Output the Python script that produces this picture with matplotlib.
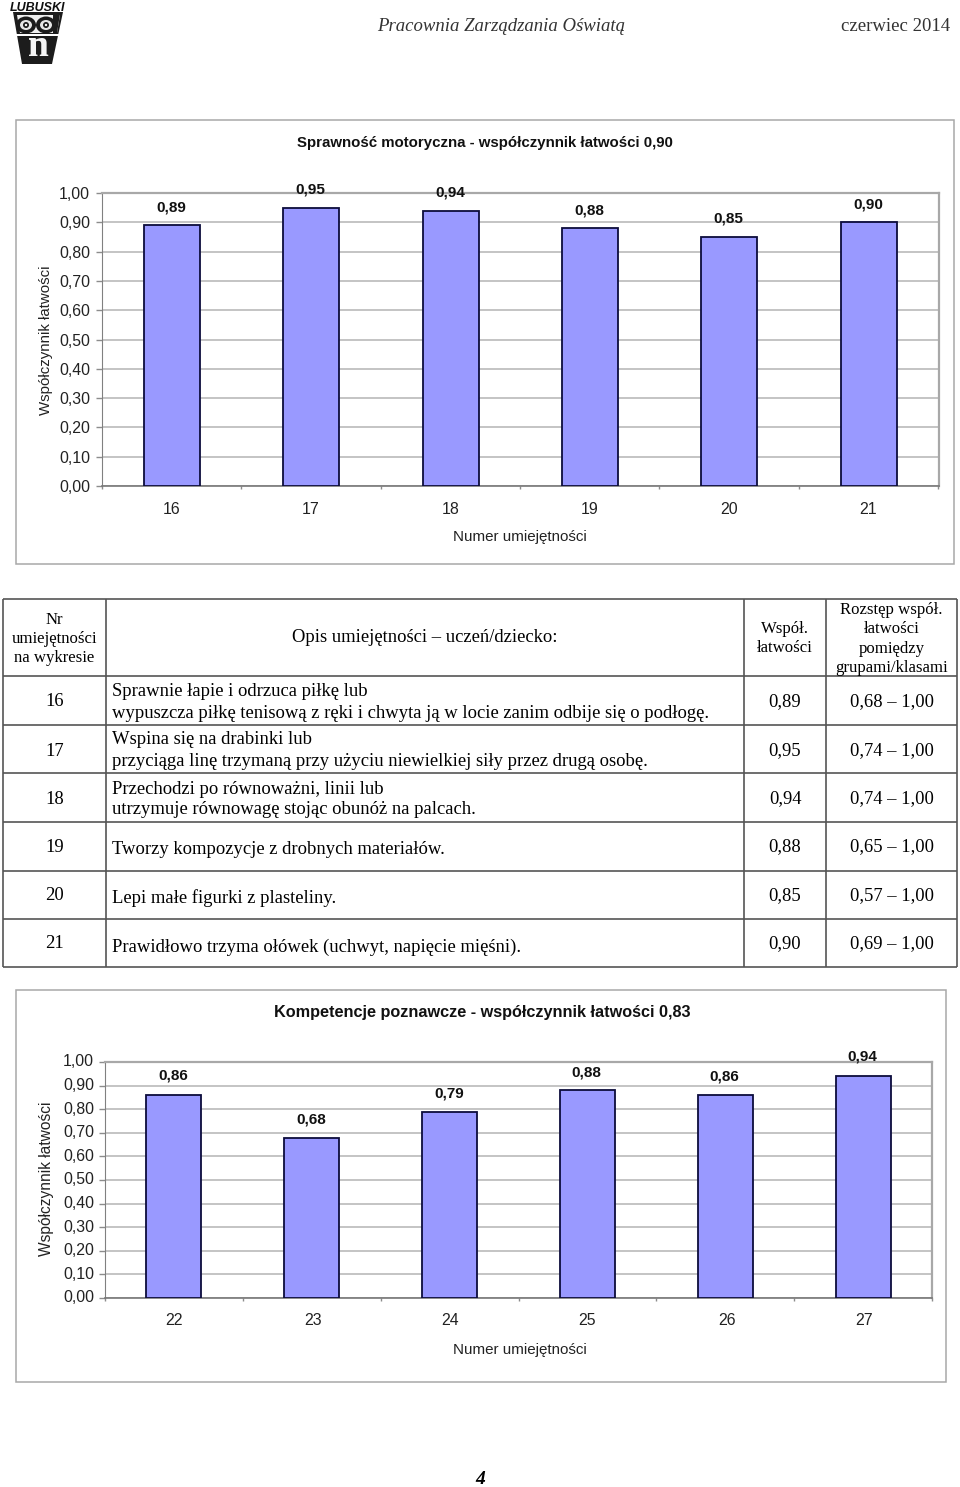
import matplotlib
matplotlib.use("Agg")
import matplotlib.pyplot as plt
from matplotlib.patches import Rectangle, Polygon, Ellipse

W, H = 960, 1487
SANS = "Liberation Sans"
SERIF = "Liberation Serif"
GREY = "#8c8c8c"
BAR = "#9999ff"
BAR_EDGE = "#0c0c3c"

skills_a = ["16", "17", "18", "19", "20", "21"]
values_a = [0.89, 0.95, 0.94, 0.88, 0.85, 0.90]
skills_b = ["22", "23", "24", "25", "26", "27"]
values_b = [0.86, 0.68, 0.79, 0.88, 0.86, 0.94]
y_ticks = [0.0, 0.1, 0.2, 0.3, 0.4, 0.5, 0.6, 0.7, 0.8, 0.9, 1.0]

title_a = "Sprawność motoryczna - współczynnik łatwości 0,90"
title_b = "Kompetencje poznawcze - współczynnik łatwości 0,83"
y_label = "Współczynnik łatwości"
x_label = "Numer umiejętności"

head_nr = ["Nr", "umiejętności", "na wykresie"]
head_opis = "Opis umiejętności – uczeń/dziecko:"
head_wsp = ["Współ.", "łatwości"]
head_roz = ["Rozstęp współ.", "łatwości", "pomiędzy", "grupami/klasami"]
rows_nr = ["16", "17", "18", "19", "20", "21"]
rows_desc = [
    ["Sprawnie łapie i odrzuca piłkę lub",
     "wypuszcza piłkę tenisową z ręki i chwyta ją w locie zanim odbije się o podłogę."],
    ["Wspina się na drabinki lub",
     "przyciąga linę trzymaną przy użyciu niewielkiej siły przez drugą osobę."],
    ["Przechodzi po równoważni, linii lub",
     "utrzymuje równowagę stojąc obunóż na palcach."],
    ["Tworzy kompozycje z drobnych materiałów."],
    ["Lepi małe figurki z plasteliny."],
    ["Prawidłowo trzyma ołówek (uchwyt, napięcie mięśni)."],
]
rows_wsp = ["0,89", "0,95", "0,94", "0,88", "0,85", "0,90"]
rows_roz = ["0,68 – 1,00", "0,74 – 1,00", "0,74 – 1,00", "0,65 – 1,00", "0,57 – 1,00", "0,69 – 1,00"]

fig = plt.figure(figsize=(W / 100, H / 100), dpi=100, facecolor="white")
page = fig.add_axes([0, 0, 1, 1], zorder=0)
page.set_xlim(0, W)
page.set_ylim(H, 0)
page.axis("off")


def txt(x, y, s, font=SERIF, size=13.4, ha="left", **kw):
    page.text(x, y + 1, s, family=font, fontsize=size, ha=ha, va="center", color=kw.pop("color", "black"), **kw)


def hl(y, x0, x1, color="#555555", lw=1.2):
    page.plot([x0, x1], [y, y], color=color, lw=lw, solid_capstyle="butt")


def vl(x, y0, y1, color="#555555", lw=1.2):
    page.plot([x, x], [y0, y1], color=color, lw=lw, solid_capstyle="butt")


# Header
txt(377, 25.5, "Pracownia Zarządzania Oświatą", size=13.5, style="italic", color="#333333")
txt(950, 25.5, "czerwiec 2014", size=13.5, ha="right", color="#333333")
txt(480, 1479, "4", size=14, ha="center", weight="bold", style="italic")

# Logo
page.add_patch(Polygon([(13, 12), (63, 12), (52, 64), (22, 64)], closed=True, fc="#1c1c1c", ec="none"))
page.add_patch(Polygon([(17, 15), (60, 15), (57, 33), (20, 33)], closed=True, fc="#f0f0f0", ec="none"))
page.add_patch(Rectangle((13, 33.5), 50, 2.5, fc="white", ec="none"))
txt(38, 7, "LUBUSKI", font=SANS, size=9, ha="center", weight="bold", style="italic", color="#111111")
for cx in (26, 46):
    page.add_patch(Ellipse((cx, 25), 20, 17, fc="#1c1c1c", ec="none"))
    page.add_patch(Ellipse((cx, 25), 12, 10, fc="#e6e6e6", ec="none"))
    page.add_patch(Ellipse((cx, 25), 6, 6, fc="#1c1c1c", ec="none"))
    page.add_patch(Ellipse((cx, 25), 2.4, 2.4, fc="white", ec="none"))
page.add_patch(Polygon([(53, 14), (60, 14), (57, 33), (53, 33)], closed=True, fc="#1c1c1c", ec="none"))
txt(38, 45, "n", size=27, ha="center", weight="bold", color="#f4f4f4")


def chart(box, plot, centers, width, values, skills, tick_centers, xtick_y, xlab_y, ylab_x, ylab_y, tick_x, tick_dy, lab_off, ylab_size):
    x0, y0, x1, y1 = box
    page.add_patch(Rectangle((x0, y0), x1 - x0, y1 - y0, fc="white", ec="#a8a8a8", lw=1.1))
    px0, py0, px1, py1 = plot
    ax = fig.add_axes([px0 / W, 1 - py1 / H, (px1 - px0) / W, (py1 - py0) / H], zorder=2)
    ax.set_facecolor("white")
    ax.set_xlim(px0, px1)
    ax.set_ylim(0, 1)
    ax.bar(centers, values, width=width, color=BAR, edgecolor=BAR_EDGE, linewidth=1.3, zorder=3)
    ax.set_yticks(y_ticks)
    ax.set_yticklabels([])
    ax.yaxis.grid(True, color="#b4b4b4", lw=1.1, zorder=0)
    ax.set_axisbelow(True)
    step = centers[1] - centers[0]
    ax.set_xticks([c - step / 2 for c in centers] + [centers[-1] + step / 2])
    ax.set_xticklabels([])
    ax.tick_params(axis="y", length=4, width=1, color=GREY)
    ax.tick_params(axis="x", length=2.2, width=1, color=GREY)
    for s in ("top", "right"):
        ax.spines[s].set_color("#a8a8a8")
        ax.spines[s].set_linewidth(1.6)
    ax.spines["bottom"].set_color("#777777")
    ax.spines["bottom"].set_linewidth(1.2)
    ax.spines["left"].set_color("#808080")
    for c, v, off in zip(centers, values, lab_off):
        ax.annotate(f"{v:.2f}".replace(".", ","), (c, v), xytext=(-0.5, off), textcoords="offset points",
                    ha="center", va="center", family=SANS, weight="bold", fontsize=11, color="#111111",
                    annotation_clip=False, zorder=5)
    for t in y_ticks:
        txt(tick_x, py1 - t * (py1 - py0) + tick_dy, f"{t:.2f}".replace(".", ","), font=SANS, size=11.4, ha="right", color="#222222")
    for c, s in zip(tick_centers, skills):
        txt(c, xtick_y, s, font=SANS, size=11.4, ha="center", color="#222222")
    txt(520, xlab_y, x_label, font=SANS, size=10.9, ha="center", color="#222222")
    txt(ylab_x, ylab_y, y_label, font=SANS, size=ylab_size, ha="center", rotation=90, color="#222222")
    return ax


chart((16, 120, 954, 564), (102, 193, 939, 486),
      [172, 311, 451, 590, 729, 869], 56, values_a, skills_a,
      [172, 311, 451, 590, 729, 868], 509, 536, 46, 339.5, 90, 0.5, [13, 13, 13, 13, 13, 13], 10.8)
txt(485, 142, title_a, font=SANS, size=10.8, ha="center", weight="bold", color="#111111")

chart((16, 990, 946, 1382), (105, 1062, 932, 1298),
      [173, 311, 449, 587, 725, 863], 55, values_b, skills_b,
      [174, 313, 450, 587, 727, 864], 1319.5, 1349, 47, 1178, 94, -1, [14, 13, 13, 13, 13, 14], 11.2)
txt(482, 1011, title_b, font=SANS, size=11.7, ha="center", weight="bold", color="#111111")

# Table
col_x = [3, 106, 744, 826, 957]
row_y = [599, 676, 725, 773, 822, 871, 919, 967]
for x in col_x:
    vl(x, row_y[0], row_y[-1])
for y in row_y:
    hl(y, col_x[0], col_x[-1])
for y, s in zip([619, 638, 657], head_nr):
    txt(54.5, y, s, size=12.1, ha="center")
txt(425, 637, head_opis, size=13.4, ha="center")
for y, s in zip([628, 647], head_wsp):
    txt(785, y, s, size=12.1, ha="center")
for y, s in zip([609, 628, 648, 667], head_roz):
    txt(891.5, y, s, size=12.1, ha="center")

num_y = [701, 750, 798, 846, 895, 943]
desc_y = [(690, 712), (739, 761), (788, 809), (849,), (897,), (946,)]
for i in range(6):
    txt(54.5, num_y[i], rows_nr[i], size=13.4, ha="center")
    txt(785, num_y[i], rows_wsp[i], size=13.4, ha="center")
    txt(891.5, num_y[i], rows_roz[i], size=13.4, ha="center")
    for y, s in zip(desc_y[i], rows_desc[i]):
        txt(112, y, s, size=13.4)

fig.savefig("out.png", dpi=100)
